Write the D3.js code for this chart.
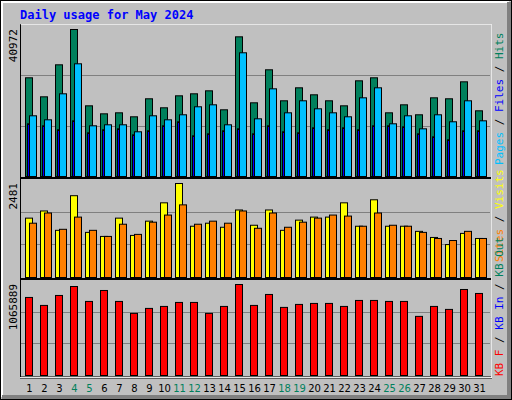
<!DOCTYPE html>
<html><head><meta charset="utf-8">
<script src="https://cdn.jsdelivr.net/npm/d3@7"></script>
<style>body{margin:0;background:#fff}</style>
</head><body>
<script>
var days = d3.range(1, 32);
var weekend = [4, 5, 11, 12, 18, 19, 25, 26];
var hits = [27510,22210,31130,40972,19700,17470,17750,16640,21660,19150,22490,23050,23880,18590,38930,20540,29740,21100,24720,22770,21100,19700,26670,27510,17750,19980,17200,21930,21660,26390,18310];
var files = [16920,15800,23050,31410,14130,14410,14410,12460,16920,15800,17200,19430,19980,14410,34480,16080,24440,17750,21100,18870,17750,16640,21930,24720,14690,16920,13290,17200,15250,21100,15520];
var pages = [14690,14130,13020,15520,12180,13020,13290,11620,12740,14130,15250,11340,11900,12740,13290,11900,14130,12460,12180,13570,13020,13570,13020,14130,14130,13850,11900,11060,10230,12740,12740];
var visits = [1567,1756,1245,2159,1191,1084,1567,1111,1487,1971,2481,1353,1433,1326,1782,1379,1782,1245,1514,1594,1594,1971,1353,2051,1353,1353,1218,1057,869,1164,1030];
var sites = [1433,1702,1272,1594,1245,1084,1406,1138,1460,1648,1917,1406,1487,1433,1756,1299,1702,1326,1460,1567,1648,1621,1353,1702,1379,1353,1191,1030,976,1218,1030];
var kbytes = [914200,820800,937500,1042500,867500,995800,867500,727400,785800,809100,855800,855800,727400,809100,1065889,820800,949200,797500,832500,844100,844100,809100,879100,879100,867500,867500,692400,809100,774100,1007500,960800];

var W = 512, H = 400;
var svg = d3.select("body").append("svg").attr("width", W).attr("height", H);

svg.append("rect").attr("width", W).attr("height", H).attr("fill", "#c0c0c0");
svg.append("rect").attr("x", 0.5).attr("y", 0.5).attr("width", W - 1).attr("height", H - 1)
   .attr("fill", "none").attr("stroke", "#000");
svg.append("path").attr("d", "M2," + (H - 3) + "V2H" + (W - 3)).attr("stroke", "#fff").attr("stroke-width", 2).attr("fill", "none");
svg.append("path").attr("d", "M2," + (H - 3) + "H" + (W - 3) + "V2").attr("stroke", "#808080").attr("stroke-width", 4).attr("fill", "none");

svg.append("text").attr("x", 20).attr("y", 19).text("Daily usage for May 2024")
   .attr("font-family", "DejaVu Sans Mono").attr("font-weight", "bold").attr("font-size", 12).attr("fill", "#0000ff");

var x = d3.scaleLinear().domain([1, 32]).range([25, 490]);

var panels = [
  {top: 25, bottom: 176, max: 40972, label: "40972"},
  {top: 179, bottom: 277, max: 2481, label: "2481"},
  {top: 280, bottom: 375, max: 1065889, label: "1065889"}
];
var ys = panels.map(function(p) {
  var maxTop = p.top + 4;
  return d3.scaleLinear().domain([0, p.max]).range([p.bottom, maxTop]);
});

panels.forEach(function(p, i) {
  var h = p.bottom - p.top;
  [1 / 3, 2 / 3].forEach(function(f) {
    var gy = Math.round(p.top + h * f) + 0.5;
    svg.append("line").attr("x1", 21).attr("x2", 490).attr("y1", gy).attr("y2", gy)
       .attr("stroke", "#808080");
  });
  svg.append("text").attr("transform", "translate(17," + (p.top + 4) + ") rotate(-90)")
     .attr("text-anchor", "end").attr("font-family", "DejaVu Sans Mono").attr("font-size", 11)
     .attr("fill", "#000").text(p.label);
});

// frame lines
svg.append("path").attr("d", "M20.5,377V24.5H491.5V377").attr("fill", "none").attr("stroke", "#000");
svg.append("path").attr("d", "M20,377.5H492M21,178H491M21,279H491").attr("fill", "none").attr("stroke", "#000").attr("stroke-width", 2);
svg.append("path").attr("d", "M21,24.5H491M20,377.5H492M491.5,24V378").attr("fill", "none").attr("stroke", "#fff").attr("stroke-width", 1).attr("opacity", 0.9);

function bars(data, y, dx, w, color) {
  svg.append("g").selectAll("rect").data(data).enter().append("rect")
    .attr("x", function(d, i) { return x(days[i]) + dx + 0.5; })
    .attr("y", function(d) { return y(d) + 0.5; })
    .attr("width", w)
    .attr("height", function(d) { return y(0) - y(d); })
    .attr("fill", color).attr("stroke", "#000");
}
bars(hits, ys[0], 0, 7, "#00805c");
bars(files, ys[0], 4, 7, "#00c0ff");
bars(pages, ys[0], 2, 2, "#0000ff");
bars(visits, ys[1], 0, 7, "#ffff00");
bars(sites, ys[1], 4, 7, "#ff8000");
bars(kbytes, ys[2], 0, 7, "#ff0000");

svg.append("g").selectAll("text").data(days).enter().append("text")
  .attr("x", function(d) { return x(d) + 4.5; }).attr("y", 392)
  .attr("text-anchor", "middle").attr("font-family", "DejaVu Sans").attr("font-size", 10)
  .attr("fill", function(d) { return weekend.indexOf(d) >= 0 ? "#00805c" : "#000"; })
  .text(function(d) { return d; });

function sideLabel(yBottom, parts) {
  var t = svg.append("text").attr("transform", "translate(503," + yBottom + ") rotate(-90)")
    .attr("font-family", "DejaVu Sans Mono").attr("font-size", 11);
  parts.forEach(function(p) { t.append("tspan").attr("fill", p[1]).text(p[0]); });
}
sideLabel(165, [["Pages", "#00c0ff"], [" / ", "#000"], ["Files", "#0000ff"], [" / ", "#000"], ["Hits", "#00805c"]]);
sideLabel(262, [["Sites", "#ff8000"], [" / ", "#000"], ["Visits", "#ffff00"]]);
sideLabel(376, [["KB F", "#ff0000"], [" / ", "#000"], ["KB In", "#0000ff"], [" / ", "#000"], ["KB Out", "#00805c"]]);
</script>
</body></html>
